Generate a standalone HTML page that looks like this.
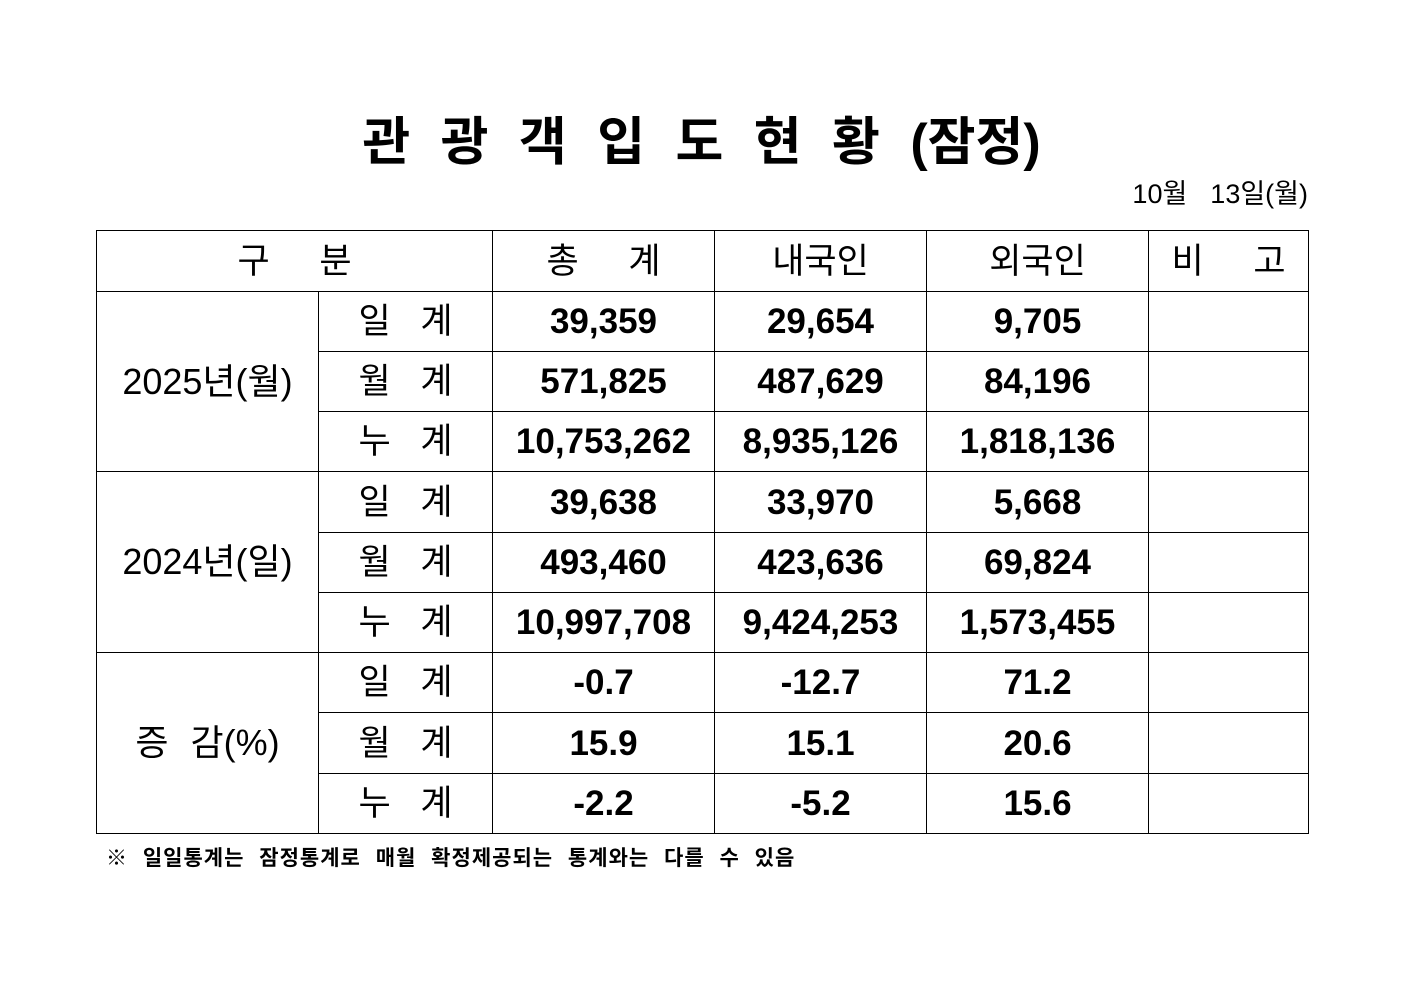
<!DOCTYPE html>
<html><head><meta charset="utf-8"><style>
body{margin:0;width:1403px;height:992px;background:#fff;position:relative;font-family:"Liberation Sans","Noto Sans CJK KR",sans-serif;color:#000}
.title{position:absolute;left:0;width:1403px;top:108px;text-align:center;font-size:52px;font-weight:bold;word-spacing:16px;line-height:70px}
.date{position:absolute;right:95px;top:176px;font-size:27px;line-height:36px;word-spacing:4px}
table{position:absolute;left:96px;top:230px;border-collapse:collapse}
td{border:1px solid #000;text-align:center;padding:0;font-size:35px;line-height:1}
td.n{font-weight:bold;font-size:35px}
td.y{font-size:36px}
.note{position:absolute;left:106px;top:842px;font-size:21px;font-weight:bold;word-spacing:8px;letter-spacing:1px}
</style></head><body>
<div class="title">관 광 객 입 도 현 황 (잠정)</div>
<div class="date">10월 &nbsp;13일(월)</div>
<table>
<colgroup><col style="width:222px"><col style="width:174px"><col style="width:222px"><col style="width:212px"><col style="width:222px"><col style="width:160px"></colgroup>
<tr style="height:61px"><td colspan="2" style="word-spacing:40px">구 분</td><td style="word-spacing:40px">총 계</td><td>내국인</td><td>외국인</td><td style="word-spacing:40px">비 고</td></tr>
<tr style="height:60px"><td rowspan="3" class="y">2025년(월)</td><td style="word-spacing:20px">일 계</td><td class="n">39,359</td><td class="n">29,654</td><td class="n">9,705</td><td></td></tr>
<tr style="height:60px"><td style="word-spacing:20px">월 계</td><td class="n">571,825</td><td class="n">487,629</td><td class="n">84,196</td><td></td></tr>
<tr style="height:60px"><td style="word-spacing:20px">누 계</td><td class="n">10,753,262</td><td class="n">8,935,126</td><td class="n">1,818,136</td><td></td></tr>
<tr style="height:61px"><td rowspan="3" class="y">2024년(일)</td><td style="word-spacing:20px">일 계</td><td class="n">39,638</td><td class="n">33,970</td><td class="n">5,668</td><td></td></tr>
<tr style="height:60px"><td style="word-spacing:20px">월 계</td><td class="n">493,460</td><td class="n">423,636</td><td class="n">69,824</td><td></td></tr>
<tr style="height:60px"><td style="word-spacing:20px">누 계</td><td class="n">10,997,708</td><td class="n">9,424,253</td><td class="n">1,573,455</td><td></td></tr>
<tr style="height:60px"><td rowspan="3" class="y" style="word-spacing:12px">증 감(%)</td><td style="word-spacing:20px">일 계</td><td class="n">-0.7</td><td class="n">-12.7</td><td class="n">71.2</td><td></td></tr>
<tr style="height:61px"><td style="word-spacing:20px">월 계</td><td class="n">15.9</td><td class="n">15.1</td><td class="n">20.6</td><td></td></tr>
<tr style="height:60px"><td style="word-spacing:20px">누 계</td><td class="n">-2.2</td><td class="n">-5.2</td><td class="n">15.6</td><td></td></tr>
</table>
<div class="note">※ 일일통계는 잠정통계로 매월 확정제공되는 통계와는 다를 수 있음</div>
</body></html>
